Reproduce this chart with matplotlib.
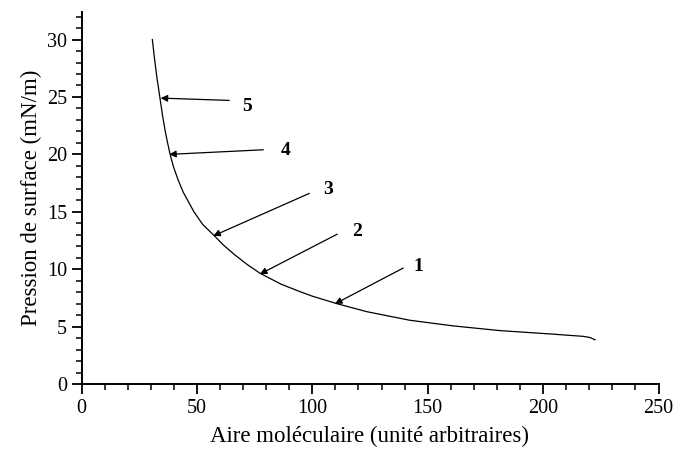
import matplotlib
matplotlib.use('Agg')
import matplotlib.pyplot as plt
from matplotlib.ticker import MultipleLocator

# isotherm
area = [30.7, 31.6, 32.6, 34.0, 35.1, 36.2, 37.3, 38.4, 39.8, 42.0, 44.1, 48.7,
        52.5, 57.1, 61.5, 66.1, 71.5, 77.3, 86.4, 94.6, 100.0, 110.6, 123.6,
        142.3, 161.1, 181.3, 203.0, 217.4, 220.3, 222.5]
pressure = [30.0, 28.4, 26.8, 24.9, 23.4, 22.1, 21.0, 20.0, 18.95, 17.7, 16.7, 15.0,
            13.9, 13.0, 12.1, 11.3, 10.45, 9.65, 8.7, 8.05, 7.65, 7.0, 6.3,
            5.55, 5.06, 4.65, 4.36, 4.15, 4.05, 3.85]

# numbered arrows: label, head (on curve), tail, text position
labels = ['5', '4', '3', '2', '1']
heads = [(34.3, 24.9), (38.0, 20.0), (57.1, 12.9), (77.3, 9.57), (109.8, 6.98)]
tails = [(64.0, 24.7), (78.8, 20.4), (98.7, 16.6), (110.8, 13.05), (139.4, 10.1)]
text_pos = [(71.8, 24.2), (88.5, 20.3), (106.7, 16.9), (119.2, 13.3), (145.9, 10.2)]

plt.rcParams['font.family'] = ['Liberation Serif', 'DejaVu Serif']

fg = plt.figure(figsize=(6.75, 4.59), dpi=100)
ax = fg.add_axes([81.5/675, 1 - 384/459, 577/675, 372/459])

ax.plot(area, pressure, color='black', lw=0.9)

for lab, h, t, p in zip(labels, heads, tails, text_pos):
    ax.annotate('', xy=h, xytext=t,
                arrowprops=dict(arrowstyle='-|>', color='black', lw=0.9,
                                mutation_scale=10, shrinkA=0, shrinkB=0))
    ax.text(p[0], p[1], lab, fontsize=14, fontweight='bold',
            ha='center', va='center')

ax.set_xlim(0, 250)
ax.set_ylim(0, 32.4)
ax.xaxis.set_major_locator(MultipleLocator(50))
ax.xaxis.set_minor_locator(MultipleLocator(10))
ax.yaxis.set_major_locator(MultipleLocator(5))
ax.yaxis.set_minor_locator(MultipleLocator(1))
ax.tick_params(which='major', direction='out', length=7, width=1.3, labelsize=14.5)
ax.tick_params(which='minor', direction='out', length=4, width=1.1)
for s in ('top', 'right'):
    ax.spines[s].set_visible(False)
for s in ('left', 'bottom'):
    ax.spines[s].set_linewidth(1.4)

ax.set_xlabel('Aire moléculaire (unité arbitraires)', fontsize=16.5, labelpad=6)
ax.set_ylabel('Pression de surface (mN/m)', fontsize=16.5, labelpad=3.5)

fg.savefig('out.png', dpi=100)
